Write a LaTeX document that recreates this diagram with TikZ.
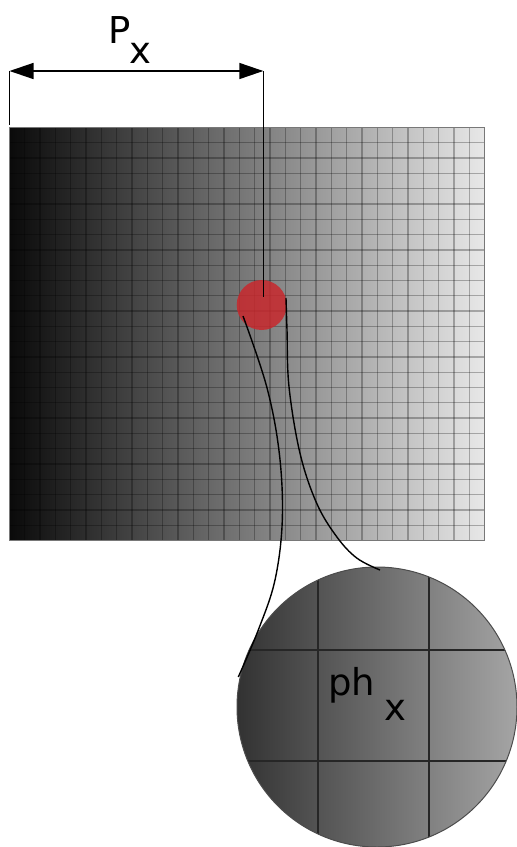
\documentclass[tikz,border=0pt]{standalone}
\usepackage{fontspec}
\setmainfont{DejaVu Sans}
\usetikzlibrary{arrows.meta}
\definecolor{gdark}{RGB}{10,10,10}
\definecolor{glight}{RGB}{232,232,232}
\definecolor{cdark}{RGB}{50,50,50}
\definecolor{clight}{RGB}{165,165,165}
\definecolor{dotred}{RGB}{200,40,45}
\definecolor{frame}{RGB}{120,120,120}
\begin{document}
\begin{tikzpicture}[x=1pt,y=-1pt,
  conn/.style={line width=1.4pt, black},
  gridline/.style={line width=1.3pt, black, opacity=0.28},
  lensline/.style={line width=1.2pt, black!85},
  lbl/.style={inner sep=0pt, anchor=base west, font=\fontsize{37}{40}\selectfont}]
\useasboundingbox (0,0) rectangle (517,847);
% gradient panel
\node[rectangle, inner sep=0pt, minimum width=475pt, minimum height=413pt,
      left color=gdark, right color=glight] (panel) at (247,334) {};
\foreach \i in {1,...,30}
  \draw[gridline] ({9.5+\i*475/31},127.5) -- ({9.5+\i*475/31},540.5);
\foreach \j in {1,...,26}
  \draw[gridline] (9.5,{127.5+\j*413/27}) -- (484.5,{127.5+\j*413/27});
\draw[line width=1.5pt, frame] (panel.north west) rectangle (panel.south east);
% red dot
\node[circle, inner sep=0pt, minimum size=50pt, fill=dotred, fill opacity=0.85] (dot) at (261.7,305) {};
% dimension
\coordinate (dl) at (9.5,71);
\coordinate (dr) at (263.3,71);
\coordinate (dlb) at (9.5,125);
\coordinate (drb) at (263.3,297);
\draw[conn, {Triangle[length=24pt,width=16pt]}-{Triangle[length=24pt,width=16pt]}] (dl) -- (dr);
\draw[conn] (dl) -- (dlb);
\draw[conn] (dr) -- (drb);
\node[lbl] (P) at (108,43) {P};
\node[lbl] (Px) at (129,63) {x};
% magnified lens
\node[circle, inner sep=0pt, minimum size=280pt, left color=cdark, right color=clight] (lens) at (377,707) {};
\begin{scope}
  \clip (lens.center) circle (140);
  \draw[lensline] (318,560) -- (318,850);
  \draw[lensline] (429,560) -- (429,850);
  \draw[lensline] (230,650) -- (520,650);
  \draw[lensline] (230,761) -- (520,761);
\end{scope}
\draw[line width=1pt, black!70] (lens.center) circle (140);
\node[lbl] (ph) at (328,695) {ph};
\node[lbl] (phx) at (384,720) {x};
% connecting curves
\coordinate (c1s) at (243,316);
\coordinate (c1e) at (238.3,677);
\coordinate (c2s) at (286,298);
\coordinate (c2e) at (380,570);
\draw[conn] plot[smooth, tension=0.6] coordinates {(c1s) (266.7,386.7) (279.3,453.3) (282.3,520) (275,580) (258.3,630) (c1e)};
\draw[conn] plot[smooth, tension=0.6] coordinates {(c2s) (287,330) (289,386.7) (300,453.3) (316.7,503.3) (336.7,536.7) (356.7,558) (c2e)};
\end{tikzpicture}
\end{document}
